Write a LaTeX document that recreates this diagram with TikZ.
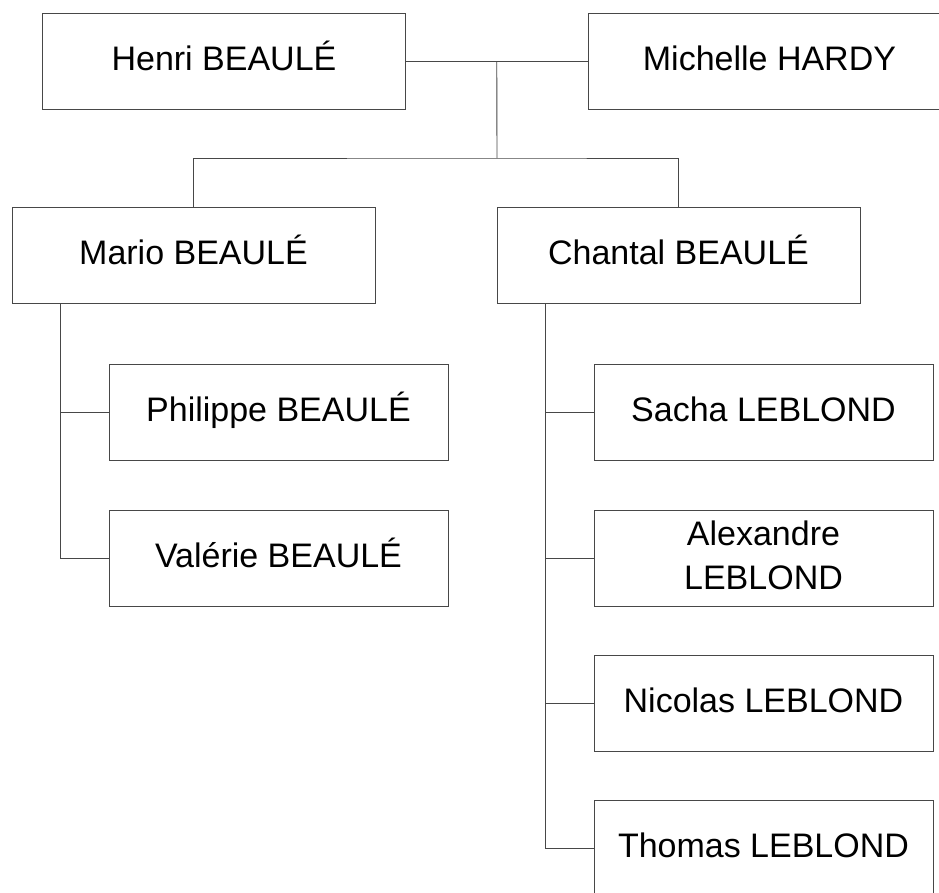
\documentclass[tikz,border=0pt]{standalone}
\usepackage{fontspec}
\setmainfont{Liberation Sans}
\usetikzlibrary{calc}
\begin{document}
\begin{tikzpicture}[x=1pt,y=-1pt,
  person/.style={draw=black!72, line width=0.9pt, rectangle, minimum width=363pt,
    minimum height=96pt, inner sep=0pt, font=\fontsize{34}{43.5}\selectfont,
    text height=24pt, text depth=6pt, align=center},
  child/.style={person, minimum width=339pt},
  link/.style={draw=black!72, line width=0.9pt}]
\clip (0,0) rectangle (939,892);
\fill[white] (0,0) rectangle (939,892);
% nodes
\node[person] (henri)    at (224,61)      {Henri BEAULÉ};
\node[person] (michelle) at (769.5,61)    {Michelle HARDY};
\node[person] (mario)    at (193.5,255)   {Mario BEAULÉ};
\node[person] (chantal)  at (678.5,255)   {Chantal BEAULÉ};
\node[child]  (philippe) at (278.5,412.5) {Philippe BEAULÉ};
\node[child]  (valerie)  at (278.5,558)   {Valérie BEAULÉ};
\node[child]  (sacha)    at (763.5,412.5) {Sacha LEBLOND};
\node[child, text height=67.5pt, text depth=5.5pt] (alexandre) at (763.5,558) {Alexandre\\LEBLOND};
\node[child]  (nicolas)  at (763.5,703)   {Nicolas LEBLOND};
\node[child]  (thomas)   at (763.5,848)   {Thomas LEBLOND};
% connectors
\draw[link] (henri.east) -- (michelle.west);
\coordinate (J) at ($(henri.east)!0.5!(michelle.west)$);
\coordinate (bar) at (497,158);
\draw[link] (J) -- (bar);
\draw[link] (mario.north) |- (bar) -| (chantal.north);
\coordinate (mt) at ([xshift=49pt]mario.south west);
\coordinate (ct) at ([xshift=49pt]chantal.south west);
\draw[link] (mt) |- (philippe.west);
\draw[link] (mt) |- (valerie.west);
\draw[link] (ct) |- (sacha.west);
\draw[link] (ct) |- (alexandre.west);
\draw[link] (ct) |- (nicolas.west);
\draw[link] (ct) |- (thomas.west);
\end{tikzpicture}
\end{document}
